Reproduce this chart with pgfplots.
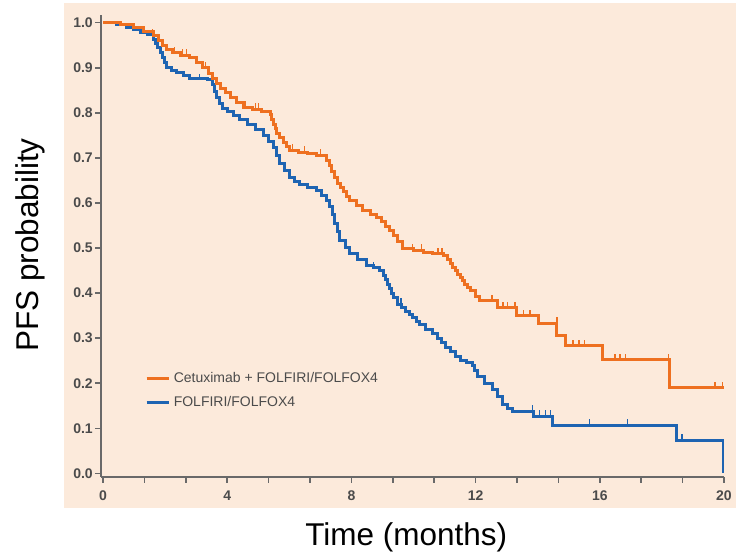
\documentclass[border=0pt]{standalone}
\usepackage{fontspec}
\setmainfont{Liberation Sans}
\usepackage{pgfplots}
\pgfplotsset{compat=1.18}
\definecolor{panel}{RGB}{252,234,219}
\definecolor{kmorange}{RGB}{238,112,32}
\definecolor{kmblue}{RGB}{30,100,178}
\definecolor{axgray}{RGB}{105,105,105}
\definecolor{txtgray}{RGB}{75,75,75}
\pgfdeclareplotmark{ctick}{\pgfpathmoveto{\pgfpointorigin}\pgfpathlineto{\pgfpoint{0pt}{\pgfplotmarksize}}\pgfusepathqstroke}
\begin{document}
\begin{tikzpicture}
\path[use as bounding box] (-50.5pt,-39pt) rectangle (317.5pt,238.5pt);
\fill[panel] (-18.5pt,-15.5pt) rectangle (317.5pt,237pt);
\begin{axis}[
  at={(0,0)}, anchor=south west, scale only axis,
  width=311.5pt, height=231pt,
  xmin=-0.065, xmax=20, ymin=-0.008, ymax=1.017,
  axis lines=left,
  axis line style={axgray, line width=1pt, -},
  tick align=outside,
  major tick length=2.8pt,
  tick style={axgray, line width=0.8pt},
  xtick={0,1.3333,2.6667,4,5.3333,6.6667,8,9.3333,10.6667,12,13.3333,14.6667,16,17.3333,18.6667,20},
  xticklabels={0,,,4,,,8,,,12,,,16,,,20},
  ytick={0,0.1,0.2,0.3,0.4,0.5,0.6,0.7,0.8,0.9,1.0},
  yticklabels={0.0,0.1,0.2,0.3,0.4,0.5,0.6,0.7,0.8,0.9,1.0},
  ticklabel style={font=\fontsize{7}{8.5}\selectfont\bfseries, text=txtgray},
  yticklabel style={xshift=2.2pt},
  xticklabel style={yshift=-0.5pt},
  xlabel={Time (months)},
  ylabel={PFS probability},
  xlabel style={at={(axis description cs:0.49,-0.13)}, anchor=center, font=\fontsize{15.75}{18}\selectfont},
  ylabel style={at={(axis description cs:-0.114,0.502)}, anchor=center, font=\fontsize{15.75}{18}\selectfont},
  legend style={at={(axis description cs:0.0706,0.237)}, anchor=north west, draw=none, fill=none,
    font=\fontsize{7}{8.5}\selectfont, text=txtgray, inner sep=0pt, row sep=1.5pt},
  legend cell align=left,
  legend image code/.code={\draw[#1] (0pt,0pt) -- (11pt,0pt);},
]
\addlegendimage{kmorange, line width=1.2pt}
\addlegendentry{Cetuximab + FOLFIRI/FOLFOX4}
\addlegendimage{kmblue, line width=1.2pt}
\addlegendentry{FOLFIRI/FOLFOX4}

% FOLFIRI/FOLFOX4
\addplot[kmblue, line width=1.5pt, const plot, forget plot] coordinates {
(0,1.000) (0.45,0.997) (0.75,0.990) (0.97,0.984) (1.20,0.978) (1.42,0.973)
(1.61,0.962) (1.70,0.953) (1.77,0.944) (1.84,0.933) (1.90,0.922) (1.98,0.911)
(2.06,0.900) (2.20,0.894) (2.38,0.889) (2.60,0.882) (2.80,0.877) (3.35,0.873)
(3.54,0.862) (3.60,0.848) (3.67,0.833) (3.76,0.821) (3.86,0.810) (4.02,0.802)
(4.19,0.795) (4.40,0.785) (4.64,0.773) (4.90,0.762) (5.16,0.750) (5.32,0.737)
(5.48,0.724) (5.59,0.706) (5.70,0.688) (5.86,0.672) (6.02,0.657) (6.18,0.648)
(6.34,0.640) (6.60,0.634) (6.89,0.628) (7.05,0.617) (7.21,0.606) (7.30,0.592)
(7.38,0.575) (7.47,0.555) (7.55,0.536) (7.63,0.517) (7.80,0.502) (7.95,0.488)
(8.20,0.475) (8.50,0.461) (8.70,0.456) (8.92,0.450) (9.02,0.440) (9.10,0.430)
(9.16,0.420) (9.22,0.410) (9.28,0.400) (9.34,0.390) (9.50,0.375) (9.62,0.367)
(9.75,0.360) (9.87,0.352) (9.98,0.345) (10.10,0.337) (10.20,0.330) (10.40,0.320)
(10.62,0.310) (10.76,0.300) (10.90,0.290) (11.04,0.280) (11.18,0.270) (11.34,0.260)
(11.50,0.250) (11.70,0.245) (11.90,0.240) (11.98,0.228) (12.05,0.215) (12.30,0.200)
(12.56,0.185) (12.72,0.170) (12.88,0.153) (13.04,0.145) (13.20,0.138)
(13.85,0.127) (14.49,0.107) (18.46,0.073) (20.00,0.000)
};
\addplot[kmblue, line width=0.6pt, only marks, mark=ctick, mark size=3pt, forget plot] coordinates {
(3.10,0.873) (8.70,0.456) (9.60,0.375) (13.82,0.138) (14.07,0.127) (14.24,0.127)
(14.40,0.127) (15.68,0.107) (16.88,0.107) (18.65,0.073)
};

% Cetuximab + FOLFIRI/FOLFOX4
\addplot[kmorange, line width=1.5pt, const plot, forget plot] coordinates {
(0,1.000) (0.55,0.997) (0.97,0.990) (1.29,0.980) (1.61,0.972) (1.80,0.960)
(1.93,0.950) (2.06,0.940) (2.25,0.933) (2.50,0.928) (2.80,0.922) (3.00,0.912)
(3.22,0.900) (3.40,0.888) (3.54,0.877) (3.65,0.866) (3.77,0.855) (3.95,0.845)
(4.09,0.833) (4.30,0.822) (4.51,0.812) (4.80,0.808) (5.10,0.803) (5.38,0.797)
(5.44,0.786) (5.50,0.775) (5.55,0.765) (5.60,0.755) (5.70,0.745) (5.80,0.735)
(5.91,0.726) (6.02,0.717) (6.30,0.712) (6.60,0.709) (6.89,0.706) (7.21,0.695)
(7.28,0.682) (7.35,0.670) (7.45,0.657) (7.54,0.644) (7.65,0.634) (7.75,0.625)
(7.85,0.615) (7.95,0.606) (8.15,0.595) (8.37,0.583) (8.60,0.575) (8.82,0.568)
(8.96,0.558) (9.10,0.548) (9.22,0.538) (9.34,0.528) (9.50,0.514) (9.66,0.500)
(10.00,0.495) (10.31,0.490) (10.60,0.487) (10.95,0.483) (11.08,0.474)
(11.18,0.465) (11.26,0.457) (11.35,0.450) (11.42,0.442) (11.50,0.434)
(11.58,0.427) (11.65,0.420) (11.74,0.412) (11.82,0.405) (12.00,0.393)
(12.14,0.383) (12.69,0.367) (13.33,0.350) (14.04,0.333) (14.62,0.305)
(14.91,0.283) (16.10,0.252) (18.23,0.190) (20.00,0.190)
};
\addplot[kmorange, line width=0.6pt, only marks, mark=ctick, mark size=3pt, forget plot] coordinates {
(1.60,0.972) (2.30,0.933) (2.55,0.928) (2.70,0.928) (3.30,0.900) (4.60,0.812)
(4.90,0.808) (5.00,0.808) (6.09,0.717) (6.50,0.712) (7.00,0.706)
(9.98,0.495) (10.27,0.495) (10.79,0.487) (10.92,0.487) (12.53,0.383)
(12.88,0.367) (13.04,0.367) (13.27,0.367) (13.53,0.350) (13.75,0.350)
(14.62,0.333) (15.14,0.283) (15.33,0.283) (15.52,0.283) (16.49,0.252)
(16.65,0.252) (16.84,0.252) (18.20,0.252) (19.71,0.190) (19.94,0.190)
};
\end{axis}
\end{tikzpicture}
\end{document}
